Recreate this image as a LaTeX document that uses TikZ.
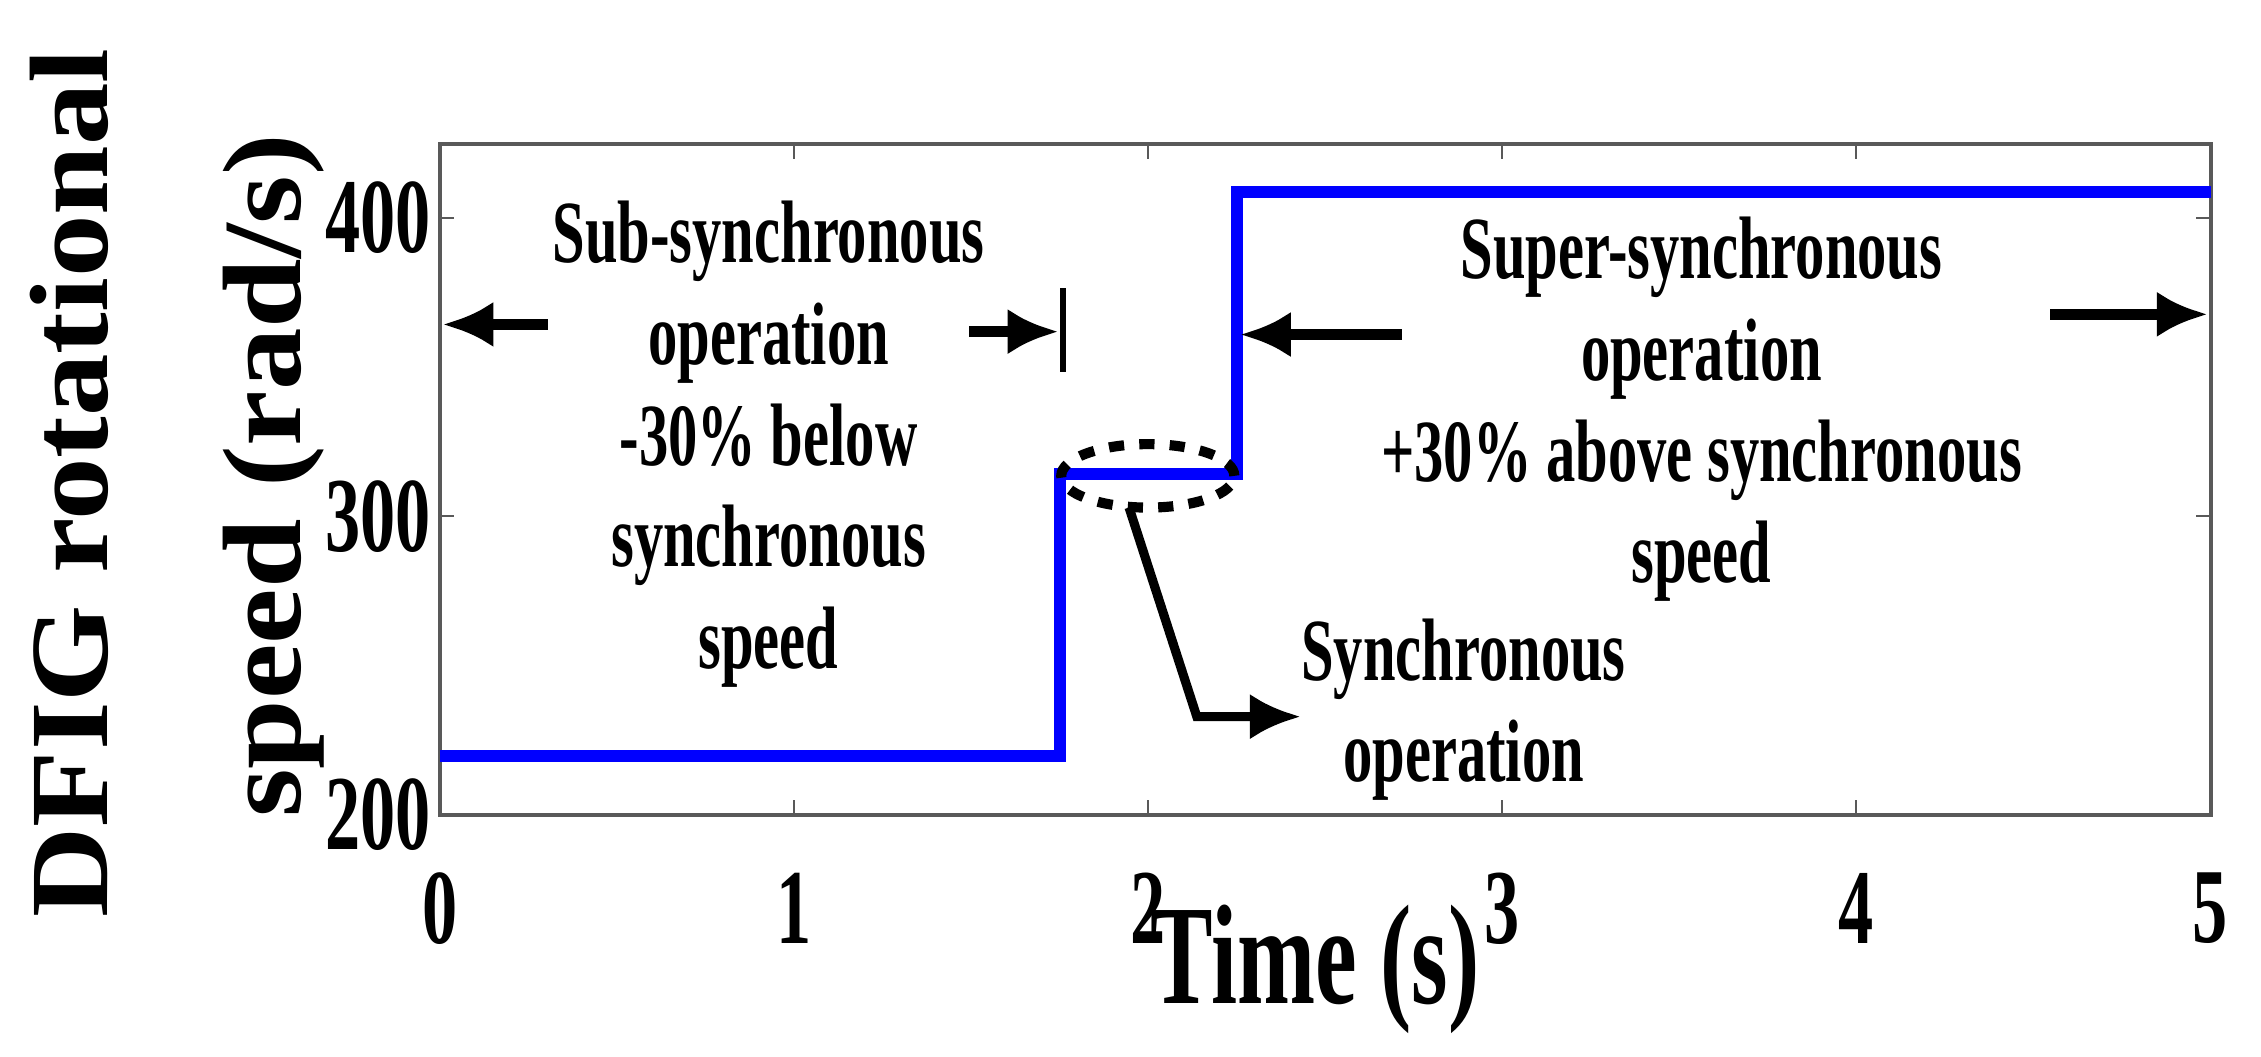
\documentclass[tikz,border=0pt]{standalone}
\usepackage{fontspec}
\setmainfont{Liberation Serif}
\newfontfamily\condf[FakeStretch=0.66]{Liberation Serif}
\newfontfamily\widef[FakeStretch=1.12]{Liberation Serif}
\usetikzlibrary{arrows.meta,shapes.geometric}
\begin{document}
\begin{tikzpicture}[x=0.01cm,y=-0.01cm,
  ann/.style={font=\condf\bfseries\fontsize{17.5}{20}\selectfont,align=center,inner sep=0pt},
  tick/.style={font=\condf\bfseries\fontsize{21}{24}\selectfont,inner sep=0pt},
  arr/.style={line width=2.2pt,-{Latex[length=10pt,width=9pt]}}]
\useasboundingbox (0,0) rectangle (1568,733);
% axes
\draw[gray!70!black,line width=0.8pt] (305,100) rectangle (1533,565);
\foreach \i in {0,...,5}{
  \pgfmathsetmacro\xx{305+245.6*\i}
  \draw[gray!70!black] (\xx,565) -- (\xx,555) (\xx,100) -- (\xx,110);
  \node[tick] (xt\i) at (\xx,630) {\i};}
\foreach \v/\yy in {200/565,300/358,400/151}{
  \draw[gray!70!black] (305,\yy) -- (315,\yy) (1533,\yy) -- (1523,\yy);
  \node[tick] (yt\v) at (262,\yy) {\v};}
% signal
\draw[blue,line width=2.4pt] (305,524) -- (735,524) -- (735,329) -- (858,329) -- (858,133) -- (1533,133);
% labels
\node[rotate=90,font=\widef\bfseries\fontsize{22}{22}\selectfont] (yl1) at (48,335) {DFIG rotational};
\node[rotate=90,font=\widef\bfseries\fontsize{22}{22}\selectfont] (yl2) at (190,330) {speed (rad/s)};
\node[font=\condf\bfseries\fontsize{28}{30}\selectfont] (xl) at (912,672) {Time (s)};
% annotations
\node[ann] (sub) at (533,308) {Sub-synchronous\\operation\\-30\% below\\synchronous\\speed};
\node[ann] (sup) at (1180,284) {Super-synchronous\\operation\\+30\% above synchronous\\speed};
\node[ann] (syn) at (1015,492) {Synchronous\\operation};
\coordinate (a1s) at (380,225); \coordinate (a1e) at (307,225);
\coordinate (a2s) at (672,230); \coordinate (a2e) at (734,230);
\coordinate (a3s) at (972,232); \coordinate (a3e) at (860,232);
\coordinate (a4s) at (1422,218); \coordinate (a4e) at (1531,218);
\draw[arr] (a1s) -- (a1e);
\draw[arr] (a2s) -- (a2e);
\draw[arr] (a3s) -- (a3e);
\draw[arr] (a4s) -- (a4e);
\coordinate (bt) at (737,200); \coordinate (bb) at (737,258);
\draw[line width=1.2pt] (bt) -- (bb);
\node[draw,dashed,line width=2pt,ellipse,minimum width=1.2cm,minimum height=0.44cm,inner sep=0pt] (ell) at (796,330) {};
\coordinate (k1) at (783,352); \coordinate (k2) at (830,497); \coordinate (k3) at (902,497);
\draw[line width=1.8pt,-{Latex[length=10pt,width=9pt]}] (k1) -- (k2) -- (k3);
\end{tikzpicture}
\end{document}
